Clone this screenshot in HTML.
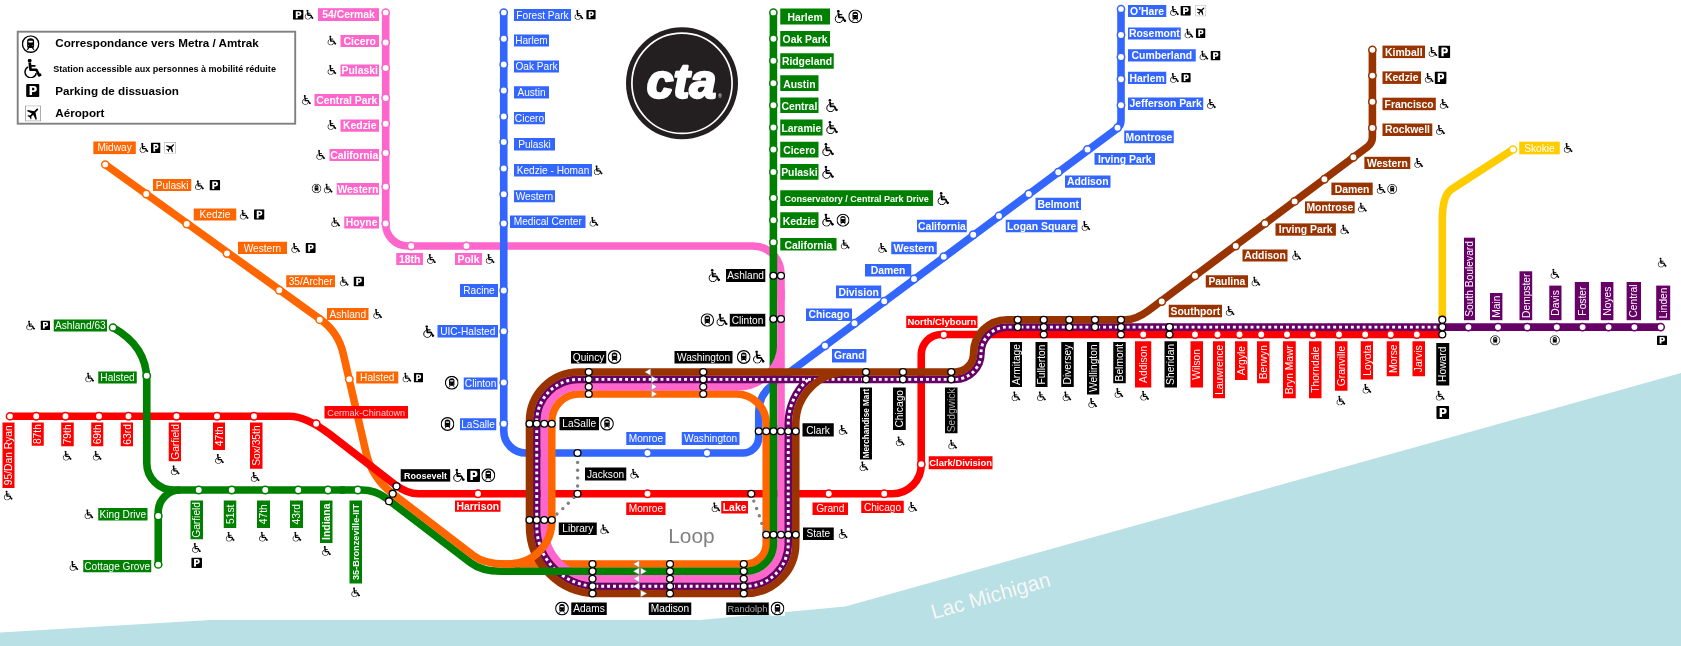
<!DOCTYPE html>
<html><head><meta charset="utf-8"><title>CTA</title>
<style>
html,body{margin:0;padding:0;background:#fff;}
body{width:1681px;height:646px;overflow:hidden;}
svg{display:block;will-change:transform;font-family:"Liberation Sans",sans-serif;}
</style></head><body>
<svg width="1681" height="646" viewBox="0 0 1681 646">
<defs>
<symbol id="wc" viewBox="0 0 12 13">
<circle cx="3.9" cy="1.3" r="1.3" fill="#000"/>
<path d="M3.9,2.6 L4.5,7.4 H8.4 L10.3,11.2 L11.7,10.5" fill="none" stroke="#000" stroke-width="1.8" stroke-linejoin="round"/>
<path d="M4.2,4.8 H7.8" fill="none" stroke="#000" stroke-width="1.2"/>
<path d="M3.0,5.5 A3.8,3.8 0 1 0 8.3,9.6" fill="none" stroke="#000" stroke-width="1.0"/>
</symbol>
<symbol id="pk" viewBox="0 0 10 10" preserveAspectRatio="none">
<rect x="0" y="0" width="10" height="10" rx="0.9" fill="#000"/>
<path d="M2.6,1.5 H5.7 Q8,1.5 8,3.85 Q8,6.2 5.7,6.2 H4.45 V8.5 H2.6 Z M4.45,2.95 V4.75 H5.4 Q6.2,4.75 6.2,3.85 Q6.2,2.95 5.4,2.95 Z" fill="#fff" fill-rule="evenodd"/>
</symbol>
<symbol id="metra" viewBox="0 0 20 20">
<circle cx="10" cy="10" r="9.2" fill="#fff" stroke="#000" stroke-width="1.6"/>
<path d="M6.1,6.3 Q6.1,3.3 10,3.3 Q13.9,3.3 13.9,6.3 V13 Q13.9,14.3 12.6,14.3 H7.4 Q6.1,14.3 6.1,13 Z" fill="#000"/>
<rect x="7.5" y="6.3" width="5" height="1.8" rx="0.5" fill="#fff"/>
<circle cx="7.8" cy="11.7" r="0.55" fill="#ccc"/><circle cx="12.2" cy="11.7" r="0.55" fill="#ccc"/>
<path d="M7.9,14.2 L6.1,16.5 M12.1,14.2 L13.9,16.5" stroke="#000" stroke-width="1.2" fill="none"/>
</symbol>
<symbol id="air" viewBox="0 0 16 16">
<rect x="0.4" y="0.4" width="15.2" height="15.2" fill="#fff" stroke="#999" stroke-width="0.8"/>
<g transform="translate(8.6,7.8) rotate(45) scale(0.7)">
<path d="M0,-9 C1,-9 1.3,-7.5 1.3,-6 V-2.5 L9,2.5 V4.5 L1.3,2 V6 L3.5,7.8 V9 L0,8 L-3.5,9 V7.8 L-1.3,6 V2 L-9,4.5 V2.5 L-1.3,-2.5 V-6 C-1.3,-7.5 -1,-9 0,-9 Z" fill="#000"/>
</g>
</symbol>
</defs>
<rect width="1681" height="646" fill="#fff"/>
<path d="M0,632.5 L210,620 L700,620 L845.2,606.6 L1681,373 V646 H0 Z" fill="#b9e0e4"/>
<text transform="translate(992.6,602.5) rotate(-15.8)" font-size="20.9" fill="#f8f6f6" text-anchor="middle">Lac Michigan</text>
<path d="M385.7,12.5 V224 A22,22 0 0 0 407.7,246 H753 A28,28 0 0 1 781,274 V300" stroke="#ff66cc" stroke-width="7.6" fill="none" />
<path d="M503.75,12.5 V431 A22,22 0 0 0 525.75,453 H742.75 A16,16 0 0 0 758.75,437  L758.75,412.1 Q758.75,395.1 772.39,384.95 L1116.99,128.58 Q1121,125.6 1121,120.6 L1121,9" stroke="#3366ff" stroke-width="7.6" fill="none" />
<path d="M520,571.25 L500.85,571.25 Q481.7,571.25 470.58,562.74 L386.62,498.51 Q375.5,490 361.5,490 L340,490" stroke="#008000" stroke-width="7.6" fill="none" />
<path d="M105.25,164.5 L320.44,319.35 Q338.3,332.2 343.23,353.64 L365.97,452.46 Q371.8,477.8 392.45,493.6 L473.38,555.49 Q484.5,564 504.5,564 L565,564" stroke="#ff6600" stroke-width="7.6" fill="none" />
<path d="M10,416.25 L289.4,416.25 Q306.4,416.25 330.15,434.58 L394.13,483.97 Q406.8,493.75 418.8,493.75 L892.25,493.75 A29,29 0 0 0 921.25,464.75 V354.5 A20,20 0 0 1 941.25,334.5 H1442.3" stroke="#ff0000" stroke-width="7.6" fill="none" />
<path d="M560,564 H745.75 A20.5,20.5 0 0 0 766.25,543.5 V424 A30,30 0 0 0 736.25,394 H579 A27.25,27.25 0 0 0 551.75,421.25 V523" stroke="#ff6600" stroke-width="7.6" fill="none" />
<path d="M773.4,12.5 V430" stroke="#008000" stroke-width="7.6" fill="none" />
<path d="M781,290 V543.5 A35.25,35.25 0 0 1 745.75,578.75 H596.75 A52.5,52.5 0 0 1 544.25,526.25 V421.25 A34.5,34.5 0 0 1 578.75,386.75 H738 A43,43 0 0 0 781,343.75" stroke="#ff66cc" stroke-width="7.6" fill="none" />
<path d="M1660.7,327.1 H1442.3" stroke="#660066" stroke-width="7.6" fill="none" />
<path d="M1442.3,327.1 H1007 A26,26 0 0 0 981,353.1 V353.35 A26,26 0 0 1 955,379.35 H578.75 A42,42 0 0 0 536.75,421.35 V526.25 A60,60 0 0 0 596.75,586.25 H745.75 A42.5,42.5 0 0 0 788.25,543.5 V424 A59.5,59.5 0 0 1 808.4,379.35" stroke="#660066" stroke-width="7.6" fill="none" />
<path d="M1442.3,327.1 H1007 A26,26 0 0 0 981,353.1 V353.35 A26,26 0 0 1 955,379.35 H578.75 A42,42 0 0 0 536.75,421.35 V526.25 A60,60 0 0 0 596.75,586.25 H745.75 A42.5,42.5 0 0 0 788.25,543.5 V424 A59.5,59.5 0 0 1 808.4,379.35" stroke="#fff" stroke-width="2.9" fill="none" stroke-dasharray="2.9 3"/>
<path d="M1372.4,49.8 L1372.4,137.1 Q1372.4,143.1 1367.6,146.69 L1148.21,310.77 Q1136.2,319.75 1125.2,319.75 L1007,319.75 A33.4,33.4 0 0 0 973.6,353.15 V353.4 A18.6,18.6 0 0 1 955,372 H578.75 A49.25,49.25 0 0 0 529.5,421.25 V526.25 A67.25,67.25 0 0 0 596.75,593.5 H745.75 A50,50 0 0 0 795.75,543.5 V424 A52,52 0 0 1 847.75,372" stroke="#993300" stroke-width="7.6" fill="none" />
<path d="M551.75,515 V521.3 A42.7,42.7 0 0 1 509.05,564 H500" stroke="#ff6600" stroke-width="7.6" fill="none" />
<path d="M773.5,425 V543.5 A27.75,27.75 0 0 1 745.75,571.25 H515" stroke="#008000" stroke-width="7.6" fill="none" />
<path d="M345,490 H173.75 A27,27 0 0 1 146.75,463 V380 C146.75,352 130,337 113,327.5" stroke="#008000" stroke-width="7.6" fill="none" />
<path d="M158.25,564.5 V512 A22,22 0 0 1 180.25,490" stroke="#008000" stroke-width="7.6" fill="none" />
<path d="M1513,149.5 L1451.54,189.23 Q1442.3,195.2 1442.3,220.2 L1442.3,319.7" stroke="#ffcc00" stroke-width="7.6" fill="none" />
<circle cx="577.6" cy="462.4" r="1.7" fill="#808080"/>
<circle cx="577.6" cy="470.2" r="1.7" fill="#808080"/>
<circle cx="577.6" cy="477.9" r="1.7" fill="#808080"/>
<circle cx="577.6" cy="486" r="1.7" fill="#808080"/>
<circle cx="574" cy="497.6" r="1.7" fill="#808080"/>
<circle cx="568.3" cy="503.2" r="1.7" fill="#808080"/>
<circle cx="562.8" cy="508.6" r="1.7" fill="#808080"/>
<circle cx="557" cy="514" r="1.7" fill="#808080"/>
<circle cx="753.8" cy="501.1" r="1.7" fill="#808080"/>
<circle cx="756.6" cy="508.5" r="1.7" fill="#808080"/>
<circle cx="759.3" cy="515.8" r="1.7" fill="#808080"/>
<circle cx="761.8" cy="523.4" r="1.7" fill="#808080"/>
<circle cx="764.5" cy="530.1" r="1.7" fill="#808080"/>
<circle cx="385.7" cy="12.5" r="3.6" fill="#fff" stroke="#ff66cc" stroke-width="1.5"/>
<circle cx="385.7" cy="42.5" r="3.7" fill="#fff" stroke="#ff66cc" stroke-width="1.5"/>
<circle cx="385.7" cy="68" r="3.7" fill="#fff" stroke="#ff66cc" stroke-width="1.5"/>
<circle cx="385.7" cy="98" r="3.7" fill="#fff" stroke="#ff66cc" stroke-width="1.5"/>
<circle cx="385.7" cy="123.75" r="3.7" fill="#fff" stroke="#ff66cc" stroke-width="1.5"/>
<circle cx="385.7" cy="153" r="3.7" fill="#fff" stroke="#ff66cc" stroke-width="1.5"/>
<circle cx="385.7" cy="186.75" r="3.7" fill="#fff" stroke="#ff66cc" stroke-width="1.5"/>
<circle cx="385.7" cy="223.5" r="3.7" fill="#fff" stroke="#ff66cc" stroke-width="1.5"/>
<circle cx="411.25" cy="246" r="3.7" fill="#fff" stroke="#ff66cc" stroke-width="1.5"/>
<circle cx="466.5" cy="246" r="3.7" fill="#fff" stroke="#ff66cc" stroke-width="1.5"/>
<circle cx="105.25" cy="164.5" r="3.6" fill="#fff" stroke="#ff6600" stroke-width="1.5"/>
<circle cx="146.25" cy="194" r="3.7" fill="#fff" stroke="#ff6600" stroke-width="1.5"/>
<circle cx="186.75" cy="224" r="3.7" fill="#fff" stroke="#ff6600" stroke-width="1.5"/>
<circle cx="227" cy="253.5" r="3.7" fill="#fff" stroke="#ff6600" stroke-width="1.5"/>
<circle cx="279.25" cy="290.25" r="3.7" fill="#fff" stroke="#ff6600" stroke-width="1.5"/>
<circle cx="319.7" cy="319.7" r="3.7" fill="#fff" stroke="#ff6600" stroke-width="1.5"/>
<circle cx="349.3" cy="379.2" r="3.7" fill="#fff" stroke="#ff6600" stroke-width="1.5"/>
<circle cx="503.75" cy="12.5" r="3.6" fill="#fff" stroke="#3366ff" stroke-width="1.5"/>
<circle cx="503.75" cy="38.75" r="3.7" fill="#fff" stroke="#3366ff" stroke-width="1.5"/>
<circle cx="503.75" cy="64.5" r="3.7" fill="#fff" stroke="#3366ff" stroke-width="1.5"/>
<circle cx="503.75" cy="90.5" r="3.7" fill="#fff" stroke="#3366ff" stroke-width="1.5"/>
<circle cx="503.75" cy="116.5" r="3.7" fill="#fff" stroke="#3366ff" stroke-width="1.5"/>
<circle cx="503.75" cy="142" r="3.7" fill="#fff" stroke="#3366ff" stroke-width="1.5"/>
<circle cx="503.75" cy="168.5" r="3.7" fill="#fff" stroke="#3366ff" stroke-width="1.5"/>
<circle cx="503.75" cy="194.25" r="3.7" fill="#fff" stroke="#3366ff" stroke-width="1.5"/>
<circle cx="503.75" cy="223.5" r="3.7" fill="#fff" stroke="#3366ff" stroke-width="1.5"/>
<circle cx="503.75" cy="290.5" r="3.7" fill="#fff" stroke="#3366ff" stroke-width="1.5"/>
<circle cx="503.75" cy="331.25" r="3.7" fill="#fff" stroke="#3366ff" stroke-width="1.5"/>
<circle cx="503.75" cy="382.5" r="3.7" fill="#fff" stroke="#3366ff" stroke-width="1.5"/>
<circle cx="503.75" cy="423.75" r="3.7" fill="#fff" stroke="#3366ff" stroke-width="1.5"/>
<circle cx="647.5" cy="453" r="3.7" fill="#fff" stroke="#3366ff" stroke-width="1.5"/>
<circle cx="707" cy="453" r="3.7" fill="#fff" stroke="#3366ff" stroke-width="1.5"/>
<circle cx="1121" cy="9" r="3.6" fill="#fff" stroke="#3366ff" stroke-width="1.5"/>
<circle cx="1121" cy="35" r="3.7" fill="#fff" stroke="#3366ff" stroke-width="1.5"/>
<circle cx="1121" cy="57" r="3.7" fill="#fff" stroke="#3366ff" stroke-width="1.5"/>
<circle cx="1121" cy="79.25" r="3.7" fill="#fff" stroke="#3366ff" stroke-width="1.5"/>
<circle cx="1121" cy="105.25" r="3.7" fill="#fff" stroke="#3366ff" stroke-width="1.5"/>
<circle cx="1117.5" cy="127.75" r="3.7" fill="#fff" stroke="#3366ff" stroke-width="1.5"/>
<circle cx="1087.5" cy="149.5" r="3.7" fill="#fff" stroke="#3366ff" stroke-width="1.5"/>
<circle cx="1058.25" cy="172.25" r="3.7" fill="#fff" stroke="#3366ff" stroke-width="1.5"/>
<circle cx="1028.75" cy="194" r="3.7" fill="#fff" stroke="#3366ff" stroke-width="1.5"/>
<circle cx="999" cy="216" r="3.7" fill="#fff" stroke="#3366ff" stroke-width="1.5"/>
<circle cx="973.25" cy="234.75" r="3.7" fill="#fff" stroke="#3366ff" stroke-width="1.5"/>
<circle cx="943.75" cy="256.75" r="3.7" fill="#fff" stroke="#3366ff" stroke-width="1.5"/>
<circle cx="914" cy="279" r="3.7" fill="#fff" stroke="#3366ff" stroke-width="1.5"/>
<circle cx="884.25" cy="301.25" r="3.7" fill="#fff" stroke="#3366ff" stroke-width="1.5"/>
<circle cx="854.5" cy="323.3" r="3.7" fill="#fff" stroke="#3366ff" stroke-width="1.5"/>
<circle cx="825" cy="345.8" r="3.7" fill="#fff" stroke="#3366ff" stroke-width="1.5"/>
<circle cx="773.4" cy="12.5" r="3.6" fill="#fff" stroke="#008000" stroke-width="1.5"/>
<circle cx="773.4" cy="38.75" r="3.7" fill="#fff" stroke="#008000" stroke-width="1.5"/>
<circle cx="773.4" cy="60.75" r="3.7" fill="#fff" stroke="#008000" stroke-width="1.5"/>
<circle cx="773.4" cy="83.25" r="3.7" fill="#fff" stroke="#008000" stroke-width="1.5"/>
<circle cx="773.4" cy="105.25" r="3.7" fill="#fff" stroke="#008000" stroke-width="1.5"/>
<circle cx="773.4" cy="127.5" r="3.7" fill="#fff" stroke="#008000" stroke-width="1.5"/>
<circle cx="773.4" cy="149.5" r="3.7" fill="#fff" stroke="#008000" stroke-width="1.5"/>
<circle cx="773.4" cy="172" r="3.7" fill="#fff" stroke="#008000" stroke-width="1.5"/>
<circle cx="773.4" cy="198" r="3.7" fill="#fff" stroke="#008000" stroke-width="1.5"/>
<circle cx="773.4" cy="220.25" r="3.7" fill="#fff" stroke="#008000" stroke-width="1.5"/>
<circle cx="773.4" cy="242.25" r="3.7" fill="#fff" stroke="#008000" stroke-width="1.5"/>
<circle cx="113" cy="327.5" r="3.6" fill="#fff" stroke="#008000" stroke-width="1.5"/>
<circle cx="146.75" cy="375.75" r="3.7" fill="#fff" stroke="#008000" stroke-width="1.5"/>
<circle cx="198.75" cy="490" r="3.7" fill="#fff" stroke="#008000" stroke-width="1.5"/>
<circle cx="231.75" cy="490" r="3.7" fill="#fff" stroke="#008000" stroke-width="1.5"/>
<circle cx="265.25" cy="490" r="3.7" fill="#fff" stroke="#008000" stroke-width="1.5"/>
<circle cx="298.25" cy="490" r="3.7" fill="#fff" stroke="#008000" stroke-width="1.5"/>
<circle cx="328" cy="490" r="3.7" fill="#fff" stroke="#008000" stroke-width="1.5"/>
<circle cx="357.75" cy="490" r="3.7" fill="#fff" stroke="#008000" stroke-width="1.5"/>
<circle cx="158.25" cy="516" r="3.7" fill="#fff" stroke="#008000" stroke-width="1.5"/>
<circle cx="158.25" cy="564.5" r="3.6" fill="#fff" stroke="#008000" stroke-width="1.5"/>
<circle cx="10" cy="416.25" r="3.6" fill="#fff" stroke="#ff0000" stroke-width="1.5"/>
<circle cx="36.25" cy="416.25" r="3.7" fill="#fff" stroke="#ff0000" stroke-width="1.5"/>
<circle cx="65.5" cy="416.25" r="3.7" fill="#fff" stroke="#ff0000" stroke-width="1.5"/>
<circle cx="99" cy="416.25" r="3.7" fill="#fff" stroke="#ff0000" stroke-width="1.5"/>
<circle cx="128.5" cy="416.25" r="3.7" fill="#fff" stroke="#ff0000" stroke-width="1.5"/>
<circle cx="176.5" cy="416.25" r="3.7" fill="#fff" stroke="#ff0000" stroke-width="1.5"/>
<circle cx="217" cy="416.25" r="3.7" fill="#fff" stroke="#ff0000" stroke-width="1.5"/>
<circle cx="254" cy="416.25" r="3.7" fill="#fff" stroke="#ff0000" stroke-width="1.5"/>
<circle cx="316.2" cy="423.7" r="3.7" fill="#fff" stroke="#ff0000" stroke-width="1.5"/>
<circle cx="478" cy="493.75" r="3.7" fill="#fff" stroke="#ff0000" stroke-width="1.5"/>
<circle cx="647.5" cy="493.75" r="3.7" fill="#fff" stroke="#ff0000" stroke-width="1.5"/>
<circle cx="828.75" cy="493.75" r="3.7" fill="#fff" stroke="#ff0000" stroke-width="1.5"/>
<circle cx="884.25" cy="493.75" r="3.7" fill="#fff" stroke="#ff0000" stroke-width="1.5"/>
<circle cx="921.25" cy="464.25" r="3.7" fill="#fff" stroke="#ff0000" stroke-width="1.5"/>
<circle cx="943.75" cy="334.7" r="3.7" fill="#fff" stroke="#ff0000" stroke-width="1.5"/>
<circle cx="1143.25" cy="334.5" r="3.7" fill="#fff" stroke="#ff0000" stroke-width="1.5"/>
<circle cx="1195" cy="334.5" r="3.7" fill="#fff" stroke="#ff0000" stroke-width="1.5"/>
<circle cx="1217.5" cy="334.5" r="3.7" fill="#fff" stroke="#ff0000" stroke-width="1.5"/>
<circle cx="1239.5" cy="334.5" r="3.7" fill="#fff" stroke="#ff0000" stroke-width="1.5"/>
<circle cx="1261.25" cy="334.5" r="3.7" fill="#fff" stroke="#ff0000" stroke-width="1.5"/>
<circle cx="1287" cy="334.5" r="3.7" fill="#fff" stroke="#ff0000" stroke-width="1.5"/>
<circle cx="1313" cy="334.5" r="3.7" fill="#fff" stroke="#ff0000" stroke-width="1.5"/>
<circle cx="1339" cy="334.5" r="3.7" fill="#fff" stroke="#ff0000" stroke-width="1.5"/>
<circle cx="1365.2" cy="334.5" r="3.7" fill="#fff" stroke="#ff0000" stroke-width="1.5"/>
<circle cx="1390.7" cy="334.5" r="3.7" fill="#fff" stroke="#ff0000" stroke-width="1.5"/>
<circle cx="1416.8" cy="334.5" r="3.7" fill="#fff" stroke="#ff0000" stroke-width="1.5"/>
<circle cx="1372.4" cy="49.8" r="3.6" fill="#fff" stroke="#993300" stroke-width="1.5"/>
<circle cx="1372.4" cy="75.6" r="3.7" fill="#fff" stroke="#993300" stroke-width="1.5"/>
<circle cx="1372.4" cy="101.7" r="3.7" fill="#fff" stroke="#993300" stroke-width="1.5"/>
<circle cx="1372.4" cy="128" r="3.7" fill="#fff" stroke="#993300" stroke-width="1.5"/>
<circle cx="1353.4" cy="157.3" r="3.7" fill="#fff" stroke="#993300" stroke-width="1.5"/>
<circle cx="1324.4" cy="179.3" r="3.7" fill="#fff" stroke="#993300" stroke-width="1.5"/>
<circle cx="1294.6" cy="201.4" r="3.7" fill="#fff" stroke="#993300" stroke-width="1.5"/>
<circle cx="1265" cy="223.4" r="3.7" fill="#fff" stroke="#993300" stroke-width="1.5"/>
<circle cx="1235.75" cy="246" r="3.7" fill="#fff" stroke="#993300" stroke-width="1.5"/>
<circle cx="1195" cy="275.75" r="3.7" fill="#fff" stroke="#993300" stroke-width="1.5"/>
<circle cx="1161.75" cy="301.5" r="3.7" fill="#fff" stroke="#993300" stroke-width="1.5"/>
<circle cx="1513" cy="149.5" r="3.6" fill="#fff" stroke="#ffcc00" stroke-width="1.5"/>
<circle cx="1468.4" cy="327.1" r="3.7" fill="#fff" stroke="#660066" stroke-width="1.5"/>
<circle cx="1498" cy="327.1" r="3.7" fill="#fff" stroke="#660066" stroke-width="1.5"/>
<circle cx="1527.2" cy="327.1" r="3.7" fill="#fff" stroke="#660066" stroke-width="1.5"/>
<circle cx="1556.8" cy="327.1" r="3.7" fill="#fff" stroke="#660066" stroke-width="1.5"/>
<circle cx="1582.6" cy="327.1" r="3.7" fill="#fff" stroke="#660066" stroke-width="1.5"/>
<circle cx="1608.6" cy="327.1" r="3.7" fill="#fff" stroke="#660066" stroke-width="1.5"/>
<circle cx="1634.4" cy="327.1" r="3.7" fill="#fff" stroke="#660066" stroke-width="1.5"/>
<circle cx="1660.7" cy="327.1" r="3.6" fill="#fff" stroke="#660066" stroke-width="1.5"/>
<circle cx="588.75" cy="372" r="3.45" fill="#fff" stroke="#000" stroke-width="1.3"/>
<circle cx="588.75" cy="379.35" r="3.45" fill="#fff" stroke="#000" stroke-width="1.3"/>
<circle cx="588.75" cy="386.75" r="3.45" fill="#fff" stroke="#000" stroke-width="1.3"/>
<circle cx="588.75" cy="394" r="3.45" fill="#fff" stroke="#000" stroke-width="1.3"/>
<circle cx="703.25" cy="372" r="3.45" fill="#fff" stroke="#000" stroke-width="1.3"/>
<circle cx="703.25" cy="379.35" r="3.45" fill="#fff" stroke="#000" stroke-width="1.3"/>
<circle cx="703.25" cy="386.75" r="3.45" fill="#fff" stroke="#000" stroke-width="1.3"/>
<circle cx="703.25" cy="394" r="3.45" fill="#fff" stroke="#000" stroke-width="1.3"/>
<circle cx="529.5" cy="423.75" r="3.45" fill="#fff" stroke="#000" stroke-width="1.3"/>
<circle cx="536.75" cy="423.75" r="3.45" fill="#fff" stroke="#000" stroke-width="1.3"/>
<circle cx="544.25" cy="423.75" r="3.45" fill="#fff" stroke="#000" stroke-width="1.3"/>
<circle cx="551.75" cy="423.75" r="3.45" fill="#fff" stroke="#000" stroke-width="1.3"/>
<circle cx="529.5" cy="520" r="3.45" fill="#fff" stroke="#000" stroke-width="1.3"/>
<circle cx="536.75" cy="520" r="3.45" fill="#fff" stroke="#000" stroke-width="1.3"/>
<circle cx="544.25" cy="520" r="3.45" fill="#fff" stroke="#000" stroke-width="1.3"/>
<circle cx="551.75" cy="520" r="3.45" fill="#fff" stroke="#000" stroke-width="1.3"/>
<circle cx="758.75" cy="431.25" r="3.45" fill="#fff" stroke="#000" stroke-width="1.3"/>
<circle cx="766.25" cy="431.25" r="3.45" fill="#fff" stroke="#000" stroke-width="1.3"/>
<circle cx="773.5" cy="431.25" r="3.45" fill="#fff" stroke="#000" stroke-width="1.3"/>
<circle cx="781" cy="431.25" r="3.45" fill="#fff" stroke="#000" stroke-width="1.3"/>
<circle cx="788.25" cy="431.25" r="3.45" fill="#fff" stroke="#000" stroke-width="1.3"/>
<circle cx="795.75" cy="431.25" r="3.45" fill="#fff" stroke="#000" stroke-width="1.3"/>
<circle cx="766.25" cy="534.75" r="3.45" fill="#fff" stroke="#000" stroke-width="1.3"/>
<circle cx="773.5" cy="534.75" r="3.45" fill="#fff" stroke="#000" stroke-width="1.3"/>
<circle cx="781" cy="534.75" r="3.45" fill="#fff" stroke="#000" stroke-width="1.3"/>
<circle cx="788.25" cy="534.75" r="3.45" fill="#fff" stroke="#000" stroke-width="1.3"/>
<circle cx="795.75" cy="534.75" r="3.45" fill="#fff" stroke="#000" stroke-width="1.3"/>
<circle cx="592.5" cy="564" r="3.45" fill="#fff" stroke="#000" stroke-width="1.3"/>
<circle cx="592.5" cy="571.25" r="3.45" fill="#fff" stroke="#000" stroke-width="1.3"/>
<circle cx="592.5" cy="578.75" r="3.45" fill="#fff" stroke="#000" stroke-width="1.3"/>
<circle cx="592.5" cy="586.25" r="3.45" fill="#fff" stroke="#000" stroke-width="1.3"/>
<circle cx="592.5" cy="593.5" r="3.45" fill="#fff" stroke="#000" stroke-width="1.3"/>
<circle cx="670" cy="564" r="3.45" fill="#fff" stroke="#000" stroke-width="1.3"/>
<circle cx="670" cy="571.25" r="3.45" fill="#fff" stroke="#000" stroke-width="1.3"/>
<circle cx="670" cy="578.75" r="3.45" fill="#fff" stroke="#000" stroke-width="1.3"/>
<circle cx="670" cy="586.25" r="3.45" fill="#fff" stroke="#000" stroke-width="1.3"/>
<circle cx="670" cy="593.5" r="3.45" fill="#fff" stroke="#000" stroke-width="1.3"/>
<circle cx="743.75" cy="564" r="3.45" fill="#fff" stroke="#000" stroke-width="1.3"/>
<circle cx="743.75" cy="571.25" r="3.45" fill="#fff" stroke="#000" stroke-width="1.3"/>
<circle cx="743.75" cy="578.75" r="3.45" fill="#fff" stroke="#000" stroke-width="1.3"/>
<circle cx="743.75" cy="586.25" r="3.45" fill="#fff" stroke="#000" stroke-width="1.3"/>
<circle cx="743.75" cy="593.5" r="3.45" fill="#fff" stroke="#000" stroke-width="1.3"/>
<circle cx="577.5" cy="453" r="3.45" fill="#fff" stroke="#000" stroke-width="1.3"/>
<circle cx="577.5" cy="493.75" r="3.45" fill="#fff" stroke="#000" stroke-width="1.3"/>
<circle cx="751.25" cy="493.75" r="3.45" fill="#fff" stroke="#000" stroke-width="1.3"/>
<circle cx="396.5" cy="486.3" r="3.45" fill="#fff" stroke="#000" stroke-width="1.3"/>
<circle cx="392.7" cy="493.7" r="3.45" fill="#fff" stroke="#000" stroke-width="1.3"/>
<circle cx="389" cy="501.2" r="3.45" fill="#fff" stroke="#000" stroke-width="1.3"/>
<circle cx="773.4" cy="275.75" r="3.45" fill="#fff" stroke="#000" stroke-width="1.3"/>
<circle cx="781" cy="275.75" r="3.45" fill="#fff" stroke="#000" stroke-width="1.3"/>
<circle cx="773.4" cy="319" r="3.45" fill="#fff" stroke="#000" stroke-width="1.3"/>
<circle cx="781" cy="319" r="3.45" fill="#fff" stroke="#000" stroke-width="1.3"/>
<circle cx="866" cy="372" r="3.45" fill="#fff" stroke="#000" stroke-width="1.3"/>
<circle cx="866" cy="379.35" r="3.45" fill="#fff" stroke="#000" stroke-width="1.3"/>
<circle cx="903" cy="372" r="3.45" fill="#fff" stroke="#000" stroke-width="1.3"/>
<circle cx="903" cy="379.35" r="3.45" fill="#fff" stroke="#000" stroke-width="1.3"/>
<circle cx="951.25" cy="372" r="3.45" fill="#fff" stroke="#000" stroke-width="1.3"/>
<circle cx="951.25" cy="379.35" r="3.45" fill="#fff" stroke="#000" stroke-width="1.3"/>
<circle cx="1017.75" cy="319.75" r="3.45" fill="#fff" stroke="#000" stroke-width="1.3"/>
<circle cx="1017.75" cy="327.1" r="3.45" fill="#fff" stroke="#000" stroke-width="1.3"/>
<circle cx="1069.25" cy="319.75" r="3.45" fill="#fff" stroke="#000" stroke-width="1.3"/>
<circle cx="1069.25" cy="327.1" r="3.45" fill="#fff" stroke="#000" stroke-width="1.3"/>
<circle cx="1095" cy="319.75" r="3.45" fill="#fff" stroke="#000" stroke-width="1.3"/>
<circle cx="1095" cy="327.1" r="3.45" fill="#fff" stroke="#000" stroke-width="1.3"/>
<circle cx="1043.75" cy="319.75" r="3.45" fill="#fff" stroke="#000" stroke-width="1.3"/>
<circle cx="1043.75" cy="327.1" r="3.45" fill="#fff" stroke="#000" stroke-width="1.3"/>
<circle cx="1043.75" cy="334.5" r="3.45" fill="#fff" stroke="#000" stroke-width="1.3"/>
<circle cx="1121" cy="319.75" r="3.45" fill="#fff" stroke="#000" stroke-width="1.3"/>
<circle cx="1121" cy="327.1" r="3.45" fill="#fff" stroke="#000" stroke-width="1.3"/>
<circle cx="1121" cy="334.5" r="3.45" fill="#fff" stroke="#000" stroke-width="1.3"/>
<circle cx="1169.5" cy="327.1" r="3.45" fill="#fff" stroke="#000" stroke-width="1.3"/>
<circle cx="1169.5" cy="334.5" r="3.45" fill="#fff" stroke="#000" stroke-width="1.3"/>
<circle cx="1442.3" cy="319.7" r="3.45" fill="#fff" stroke="#000" stroke-width="1.3"/>
<circle cx="1442.3" cy="327.1" r="3.45" fill="#fff" stroke="#000" stroke-width="1.3"/>
<circle cx="1442.3" cy="334.5" r="3.45" fill="#fff" stroke="#000" stroke-width="1.3"/>
<polygon points="650.7,368.5 644.7,372 650.7,375.5" fill="#fff" stroke="#777" stroke-width="0.5"/>
<polygon points="651.4,375.85 657.2,379.35 651.4,382.85" fill="#fff" stroke="#777" stroke-width="0.5"/>
<polygon points="651.4,383.25 657.2,386.75 651.4,390.25" fill="#fff" stroke="#777" stroke-width="0.5"/>
<polygon points="651.4,390.5 657.2,394 651.4,397.5" fill="#fff" stroke="#777" stroke-width="0.5"/>
<polygon points="639.3,560.5 633.2,564 639.3,567.5" fill="#fff" stroke="#777" stroke-width="0.5"/>
<polygon points="639.3,567.75 633.2,571.25 639.3,574.75" fill="#fff" stroke="#777" stroke-width="0.5"/>
<polygon points="640.6,567.75 646.6,571.25 640.6,574.75" fill="#fff" stroke="#777" stroke-width="0.5"/>
<polygon points="639.3,575.25 633.2,578.75 639.3,582.25" fill="#fff" stroke="#777" stroke-width="0.5"/>
<polygon points="639.3,582.75 633.2,586.25 639.3,589.75" fill="#fff" stroke="#777" stroke-width="0.5"/>
<polygon points="640.6,590 647,593.5 640.6,597" fill="#fff" stroke="#777" stroke-width="0.5"/>
<rect x="318" y="8.2" width="61" height="12.8" fill="#ff66cc"/>
<text x="348.5" y="18.34" font-size="10.4" fill="#fff" text-anchor="middle" font-weight="bold">54/Cermak</text>
<use href="#pk" x="293" y="9.8" width="10.6" height="10"/>
<use href="#wc" x="304.48" y="9.65" width="9.14" height="9.9"/>
<rect x="340.5" y="35" width="38.5" height="12" fill="#ff66cc"/>
<text x="359.75" y="44.74" font-size="10.4" fill="#fff" text-anchor="middle" font-weight="bold">Cicero</text>
<use href="#wc" x="327.33" y="35.45" width="9.14" height="9.9"/>
<rect x="340.5" y="64.5" width="38.5" height="12" fill="#ff66cc"/>
<text x="359.75" y="74.24" font-size="10.4" fill="#fff" text-anchor="middle" font-weight="bold">Pulaski</text>
<use href="#wc" x="327.33" y="64.95" width="9.14" height="9.9"/>
<rect x="314.5" y="94" width="64.5" height="12" fill="#ff66cc"/>
<text x="346.75" y="103.74" font-size="10.4" fill="#fff" text-anchor="middle" font-weight="bold">Central Park</text>
<use href="#wc" x="301.83" y="94.95" width="9.14" height="9.9"/>
<rect x="340.5" y="119.5" width="38.5" height="12.25" fill="#ff66cc"/>
<text x="359.75" y="129.37" font-size="10.4" fill="#fff" text-anchor="middle" font-weight="bold">Kedzie</text>
<use href="#wc" x="327.33" y="119.95" width="9.14" height="9.9"/>
<rect x="329.5" y="149" width="49.5" height="12" fill="#ff66cc"/>
<text x="354.25" y="158.74" font-size="10.4" fill="#fff" text-anchor="middle" font-weight="bold">California</text>
<use href="#wc" x="316.08" y="149.95" width="9.14" height="9.9"/>
<rect x="336.75" y="183" width="42.25" height="11.75" fill="#ff66cc"/>
<text x="357.88" y="192.62" font-size="10.4" fill="#fff" text-anchor="middle" font-weight="bold">Western</text>
<use href="#metra" x="311.7" y="183.7" width="9.6" height="9.6"/>
<use href="#wc" x="323.58" y="183.45" width="9.14" height="9.9"/>
<rect x="344.25" y="216.5" width="34.75" height="12" fill="#ff66cc"/>
<text x="361.62" y="226.24" font-size="10.4" fill="#fff" text-anchor="middle" font-weight="bold">Hoyne</text>
<use href="#wc" x="331.08" y="217.2" width="9.14" height="9.9"/>
<rect x="396.25" y="253" width="26.75" height="12" fill="#ff66cc"/>
<text x="409.62" y="262.74" font-size="10.4" fill="#fff" text-anchor="middle" font-weight="bold">18th</text>
<use href="#wc" x="426.83" y="253.95" width="9.14" height="9.9"/>
<rect x="455" y="253" width="27" height="12" fill="#ff66cc"/>
<text x="468.5" y="262.74" font-size="10.4" fill="#fff" text-anchor="middle" font-weight="bold">Polk</text>
<use href="#wc" x="485.58" y="253.95" width="9.14" height="9.9"/>
<rect x="93.35" y="141.5" width="42.45" height="12.6" fill="#ff6600"/>
<text x="114.58" y="151.45" font-size="10.15" fill="#fff" text-anchor="middle">Midway</text>
<use href="#wc" x="139.33" y="142.95" width="9.14" height="9.9"/>
<use href="#pk" x="150.9" y="142.5" width="9.6" height="10.6"/>
<use href="#air" x="164.3" y="142" width="11.8" height="11.6"/>
<rect x="153" y="179" width="38.25" height="12" fill="#ff6600"/>
<text x="172.12" y="188.65" font-size="10.15" fill="#fff" text-anchor="middle">Pulaski</text>
<use href="#wc" x="194.83" y="180.2" width="9.14" height="9.9"/>
<use href="#pk" x="209.5" y="180" width="10.75" height="10.5"/>
<rect x="193.75" y="208.5" width="42.5" height="12" fill="#ff6600"/>
<text x="215" y="218.15" font-size="10.15" fill="#fff" text-anchor="middle">Kedzie</text>
<use href="#wc" x="239.58" y="209.7" width="9.14" height="9.9"/>
<use href="#pk" x="254" y="209.25" width="10.5" height="10.5"/>
<rect x="238" y="241.75" width="49" height="12.25" fill="#ff6600"/>
<text x="262.5" y="251.53" font-size="10.15" fill="#fff" text-anchor="middle">Western</text>
<use href="#wc" x="291.08" y="242.95" width="9.14" height="9.9"/>
<use href="#pk" x="305.5" y="243" width="10.25" height="10"/>
<rect x="286.25" y="275.25" width="48.75" height="12" fill="#ff6600"/>
<text x="310.62" y="284.9" font-size="10.15" fill="#fff" text-anchor="middle">35/Archer</text>
<use href="#wc" x="339.58" y="276.45" width="9.14" height="9.9"/>
<use href="#pk" x="353.5" y="276.5" width="10.5" height="10"/>
<rect x="327" y="308" width="41.5" height="12" fill="#ff6600"/>
<text x="347.75" y="317.65" font-size="10.15" fill="#fff" text-anchor="middle">Ashland</text>
<use href="#wc" x="373.08" y="308.95" width="9.14" height="9.9"/>
<rect x="356.25" y="371.5" width="42" height="12" fill="#ff6600"/>
<text x="377.25" y="381.15" font-size="10.15" fill="#fff" text-anchor="middle">Halsted</text>
<use href="#wc" x="402.33" y="372.45" width="9.14" height="9.9"/>
<use href="#pk" x="413.75" y="373" width="9.25" height="9.5"/>
<rect x="53.75" y="319.5" width="53.25" height="12" fill="#008000"/>
<text x="80.38" y="329.15" font-size="10.15" fill="#fff" text-anchor="middle">Ashland/63</text>
<use href="#pk" x="40.5" y="320.5" width="9.5" height="9.5"/>
<use href="#wc" x="26.08" y="320.45" width="9.14" height="9.9"/>
<rect x="98.25" y="371.5" width="38.5" height="12" fill="#008000"/>
<text x="117.5" y="381.15" font-size="10.15" fill="#fff" text-anchor="middle">Halsted</text>
<use href="#wc" x="85.08" y="372.45" width="9.14" height="9.9"/>
<rect x="98.25" y="508" width="49.25" height="12.5" fill="#008000"/>
<text x="122.88" y="517.9" font-size="10.15" fill="#fff" text-anchor="middle">King Drive</text>
<use href="#wc" x="84.33" y="509.2" width="9.14" height="9.9"/>
<rect x="83.25" y="560" width="68" height="12.25" fill="#008000"/>
<text x="117.25" y="569.78" font-size="10.15" fill="#fff" text-anchor="middle">Cottage Grove</text>
<use href="#wc" x="69.33" y="560.95" width="9.14" height="9.9"/>
<rect x="190.5" y="500.5" width="12.5" height="38.75" fill="#008000"/>
<text transform="translate(200.44,519.88) rotate(-90)" font-size="10.25" fill="#fff" text-anchor="middle">Garfield</text>
<use href="#wc" x="191.83" y="542.95" width="9.14" height="9.9"/>
<use href="#pk" x="191.25" y="557.5" width="10.75" height="10.5"/>
<rect x="223.75" y="500.5" width="12.5" height="27.5" fill="#008000"/>
<text transform="translate(233.69,514.25) rotate(-90)" font-size="10.25" fill="#fff" text-anchor="middle">51st</text>
<use href="#wc" x="225.58" y="531.7" width="9.14" height="9.9"/>
<rect x="257" y="500.5" width="13" height="27.5" fill="#008000"/>
<text transform="translate(267.19,514.25) rotate(-90)" font-size="10.25" fill="#fff" text-anchor="middle">47th</text>
<use href="#wc" x="258.83" y="531.7" width="9.14" height="9.9"/>
<rect x="290" y="500.5" width="13" height="27.5" fill="#008000"/>
<text transform="translate(300.19,514.25) rotate(-90)" font-size="10.25" fill="#fff" text-anchor="middle">43rd</text>
<use href="#wc" x="292.33" y="531.7" width="9.14" height="9.9"/>
<rect x="320" y="500.5" width="12.5" height="42.5" fill="#008000"/>
<text transform="translate(329.99,521.75) rotate(-90)" font-size="10.4" fill="#fff" text-anchor="middle" font-weight="bold">Indiana</text>
<use href="#wc" x="321.83" y="545.95" width="9.14" height="9.9"/>
<rect x="349.5" y="500.5" width="12.5" height="83" fill="#008000"/>
<text transform="translate(359.06,542) rotate(-90)" font-size="9.2" fill="#fff" text-anchor="middle" font-weight="bold">35-Bronzeville-IIT</text>
<use href="#wc" x="351.08" y="587.2" width="9.14" height="9.9"/>
<rect x="324.5" y="406" width="83.5" height="12.5" fill="#ff0000"/>
<text x="366.25" y="415.53" font-size="9.1" fill="#ffc8c8" text-anchor="middle">Cermak-Chinatown</text>
<rect x="2.5" y="422.5" width="12" height="65.5" fill="#ff0000"/>
<text transform="translate(12.19,455.25) rotate(-90)" font-size="10.25" fill="#fff" text-anchor="middle">95/Dan Ryan</text>
<use href="#wc" x="3.58" y="490.45" width="9.14" height="9.9"/>
<rect x="31.75" y="422.5" width="12" height="23.25" fill="#ff0000"/>
<text transform="translate(41.44,434.12) rotate(-90)" font-size="10.25" fill="#fff" text-anchor="middle">87th</text>
<rect x="61.25" y="422.5" width="12.5" height="23.75" fill="#ff0000"/>
<text transform="translate(71.19,434.38) rotate(-90)" font-size="10.25" fill="#fff" text-anchor="middle">79th</text>
<use href="#wc" x="62.58" y="450.7" width="9.14" height="9.9"/>
<rect x="91.25" y="422.5" width="12" height="23.75" fill="#ff0000"/>
<text transform="translate(100.94,434.38) rotate(-90)" font-size="10.25" fill="#fff" text-anchor="middle">69th</text>
<use href="#wc" x="92.58" y="450.7" width="9.14" height="9.9"/>
<rect x="120.75" y="422.5" width="12.25" height="23.75" fill="#ff0000"/>
<text transform="translate(130.56,434.38) rotate(-90)" font-size="10.25" fill="#fff" text-anchor="middle">63rd</text>
<rect x="168.75" y="422.5" width="12.25" height="38.75" fill="#ff0000"/>
<text transform="translate(178.56,441.88) rotate(-90)" font-size="10.25" fill="#fff" text-anchor="middle">Garfield</text>
<use href="#wc" x="170.58" y="465.2" width="9.14" height="9.9"/>
<rect x="213" y="422.5" width="12" height="27.5" fill="#ff0000"/>
<text transform="translate(222.69,436.25) rotate(-90)" font-size="10.25" fill="#fff" text-anchor="middle">47th</text>
<use href="#wc" x="214.83" y="453.95" width="9.14" height="9.9"/>
<rect x="250" y="422.5" width="12.5" height="46.25" fill="#ff0000"/>
<text transform="translate(259.94,445.62) rotate(-90)" font-size="10.25" fill="#fff" text-anchor="middle">Sox/35th</text>
<use href="#wc" x="250.58" y="471.95" width="9.14" height="9.9"/>
<rect x="514" y="9" width="57" height="12" fill="#3366ff"/>
<text x="542.5" y="18.65" font-size="10.15" fill="#fff" text-anchor="middle">Forest Park</text>
<use href="#wc" x="574.33" y="9.95" width="9.14" height="9.9"/>
<use href="#pk" x="586.25" y="10" width="9.5" height="9.5"/>
<rect x="514" y="34.5" width="35" height="12" fill="#3366ff"/>
<text x="531.5" y="44.15" font-size="10.15" fill="#fff" text-anchor="middle">Harlem</text>
<rect x="514" y="60.5" width="45" height="12" fill="#3366ff"/>
<text x="536.5" y="70.15" font-size="10.15" fill="#fff" text-anchor="middle">Oak Park</text>
<rect x="514" y="86.25" width="35" height="12.25" fill="#3366ff"/>
<text x="531.5" y="96.03" font-size="10.15" fill="#fff" text-anchor="middle">Austin</text>
<rect x="514" y="112" width="31" height="12.25" fill="#3366ff"/>
<text x="529.5" y="121.78" font-size="10.15" fill="#fff" text-anchor="middle">Cicero</text>
<rect x="514" y="138" width="41" height="12.5" fill="#3366ff"/>
<text x="534.5" y="147.9" font-size="10.15" fill="#fff" text-anchor="middle">Pulaski</text>
<rect x="514" y="164" width="78" height="12.5" fill="#3366ff"/>
<text x="553" y="173.9" font-size="10.15" fill="#fff" text-anchor="middle">Kedzie - Homan</text>
<use href="#wc" x="593.58" y="165.2" width="9.14" height="9.9"/>
<rect x="514" y="190.25" width="41" height="12" fill="#3366ff"/>
<text x="534.5" y="199.9" font-size="10.15" fill="#fff" text-anchor="middle">Western</text>
<rect x="510" y="215.5" width="75.5" height="12.5" fill="#3366ff"/>
<text x="547.75" y="225.4" font-size="10.15" fill="#fff" text-anchor="middle">Medical Center</text>
<use href="#wc" x="589.33" y="216.7" width="9.14" height="9.9"/>
<rect x="460" y="284" width="38" height="13" fill="#3366ff"/>
<text x="479" y="294.15" font-size="10.15" fill="#fff" text-anchor="middle">Racine</text>
<rect x="437.5" y="325" width="60.5" height="12.5" fill="#3366ff"/>
<text x="467.75" y="334.9" font-size="10.15" fill="#fff" text-anchor="middle">UIC-Halsted</text>
<use href="#wc" x="422.98" y="325.25" width="11.54" height="12.5"/>
<rect x="463.75" y="377.5" width="33.75" height="12" fill="#3366ff"/>
<text x="480.62" y="387.15" font-size="10.15" fill="#fff" text-anchor="middle">Clinton</text>
<use href="#metra" x="444.85" y="375.85" width="13.8" height="13.8"/>
<rect x="460" y="418.25" width="36.25" height="12" fill="#3366ff"/>
<text x="478.12" y="427.9" font-size="10.15" fill="#fff" text-anchor="middle">LaSalle</text>
<use href="#metra" x="440.6" y="417.1" width="13.8" height="13.8"/>
<rect x="626.25" y="432" width="39.25" height="13" fill="#3366ff"/>
<text x="645.88" y="442.15" font-size="10.15" fill="#fff" text-anchor="middle">Monroe</text>
<rect x="681.75" y="432" width="57.75" height="13" fill="#3366ff"/>
<text x="710.62" y="442.15" font-size="10.15" fill="#fff" text-anchor="middle">Washington</text>
<rect x="571" y="351" width="35.25" height="12.5" fill="#000000"/>
<text x="588.62" y="360.9" font-size="10.15" fill="#fff" text-anchor="middle">Quincy</text>
<use href="#metra" x="607.6" y="350.1" width="13.8" height="13.8"/>
<rect x="674.5" y="351" width="58" height="12.5" fill="#000000"/>
<text x="703.5" y="360.9" font-size="10.15" fill="#fff" text-anchor="middle">Washington</text>
<use href="#metra" x="736.85" y="350.1" width="13.8" height="13.8"/>
<use href="#wc" x="752.75" y="350.5" width="12" height="13"/>
<rect x="559.5" y="417" width="39.5" height="13.25" fill="#000000"/>
<text x="579.25" y="427.28" font-size="10.15" fill="#fff" text-anchor="middle">LaSalle</text>
<use href="#metra" x="600.1" y="416.85" width="13.8" height="13.8"/>
<rect x="802.5" y="423.25" width="31.25" height="13.25" fill="#000000"/>
<text x="818.12" y="433.53" font-size="10.15" fill="#fff" text-anchor="middle">Clark</text>
<use href="#wc" x="838.58" y="424.95" width="9.14" height="9.9"/>
<rect x="585" y="467.5" width="41.25" height="13" fill="#000000"/>
<text x="605.62" y="477.65" font-size="10.15" fill="#fff" text-anchor="middle">Jackson</text>
<use href="#wc" x="630.08" y="468.7" width="9.14" height="9.9"/>
<rect x="400.7" y="469.2" width="49.5" height="12.4" fill="#000000"/>
<text x="425.45" y="478.64" font-size="9" fill="#fff" text-anchor="middle" font-weight="bold">Roosevelt</text>
<use href="#wc" x="452.9" y="468.8" width="12" height="13"/>
<use href="#pk" x="467" y="468.8" width="13.1" height="13.2"/>
<use href="#metra" x="481.3" y="468.3" width="14" height="14"/>
<rect x="558.75" y="522.5" width="38" height="12.5" fill="#000000"/>
<text x="577.75" y="532.4" font-size="10.15" fill="#fff" text-anchor="middle">Library</text>
<use href="#wc" x="600.08" y="524.2" width="9.14" height="9.9"/>
<rect x="803" y="527.5" width="30.75" height="12.5" fill="#000000"/>
<text x="818.38" y="537.4" font-size="10.15" fill="#fff" text-anchor="middle">State</text>
<use href="#wc" x="838.58" y="528.95" width="9.14" height="9.9"/>
<rect x="571.25" y="602.5" width="35.5" height="12.5" fill="#000000"/>
<text x="589" y="612.4" font-size="10.15" fill="#fff" text-anchor="middle">Adams</text>
<use href="#metra" x="555.1" y="601.6" width="13.8" height="13.8"/>
<rect x="648.75" y="602.5" width="42.5" height="12.5" fill="#000000"/>
<text x="670" y="612.4" font-size="10.15" fill="#fff" text-anchor="middle">Madison</text>
<rect x="726.25" y="602.5" width="42.5" height="12.5" fill="#000000"/>
<text x="747.5" y="612.1" font-size="9.3" fill="#b0b0b0" text-anchor="middle">Randolph</text>
<rect x="770.4" y="601" width="14.6" height="14.7" fill="#fff"/>
<use href="#metra" x="770.6" y="601.6" width="13.8" height="13.8"/>
<text x="691.5" y="543" font-size="20.9" fill="#808080" text-anchor="middle">Loop</text>
<rect x="455" y="500.5" width="45.5" height="11.25" fill="#ff0000"/>
<text x="477.75" y="509.87" font-size="10.4" fill="#fff" text-anchor="middle" font-weight="bold">Harrison</text>
<rect x="626.25" y="502.5" width="39.25" height="12.5" fill="#ff0000"/>
<text x="645.88" y="512.4" font-size="10.15" fill="#fff" text-anchor="middle">Monroe</text>
<rect x="721.25" y="501" width="26.75" height="12.5" fill="#ff0000"/>
<text x="734.62" y="510.99" font-size="10.4" fill="#fff" text-anchor="middle" font-weight="bold">Lake</text>
<use href="#wc" x="711.33" y="502.2" width="9.14" height="9.9"/>
<rect x="812.5" y="502.5" width="35.5" height="12.5" fill="#ff0000"/>
<text x="830.25" y="512.4" font-size="10.15" fill="#fff" text-anchor="middle">Grand</text>
<rect x="861.25" y="500.75" width="42.5" height="12.25" fill="#ff0000"/>
<text x="882.5" y="510.53" font-size="10.15" fill="#fff" text-anchor="middle">Chicago</text>
<use href="#wc" x="908.08" y="501.95" width="9.14" height="9.9"/>
<rect x="928.75" y="456.25" width="63.75" height="13" fill="#ff0000"/>
<text x="960.62" y="466.13" font-size="9.4" fill="#fff" text-anchor="middle" font-weight="bold">Clark/Division</text>
<rect x="906.25" y="315.75" width="71.25" height="12.25" fill="#ff0000"/>
<text x="941.88" y="325.26" font-size="9.4" fill="#fff" text-anchor="middle" font-weight="bold">North/Clybourn</text>
<rect x="780.25" y="8.5" width="49.75" height="16" fill="#008000"/>
<text x="805.12" y="20.94" font-size="10.4" fill="#fff" text-anchor="middle" font-weight="bold">Harlem</text>
<use href="#wc" x="834.4" y="9.9" width="12" height="13"/>
<use href="#metra" x="848.3" y="9.5" width="13.8" height="13.8"/>
<rect x="780.25" y="31" width="49.75" height="15.5" fill="#008000"/>
<text x="805.12" y="43.19" font-size="10.4" fill="#fff" text-anchor="middle" font-weight="bold">Oak Park</text>
<rect x="780.25" y="53.25" width="53.5" height="15.5" fill="#008000"/>
<text x="807" y="65.44" font-size="10.4" fill="#fff" text-anchor="middle" font-weight="bold">Ridgeland</text>
<rect x="780.25" y="75.25" width="38.25" height="15.75" fill="#008000"/>
<text x="799.38" y="87.57" font-size="10.4" fill="#fff" text-anchor="middle" font-weight="bold">Austin</text>
<rect x="780.25" y="97.5" width="38.25" height="15.5" fill="#008000"/>
<text x="799.38" y="109.69" font-size="10.4" fill="#fff" text-anchor="middle" font-weight="bold">Central</text>
<use href="#wc" x="826" y="99" width="12" height="13"/>
<rect x="780.25" y="119.5" width="42.25" height="16" fill="#008000"/>
<text x="801.38" y="131.94" font-size="10.4" fill="#fff" text-anchor="middle" font-weight="bold">Laramie</text>
<use href="#wc" x="826" y="121" width="12" height="13"/>
<rect x="780.25" y="141.75" width="38.25" height="15.75" fill="#008000"/>
<text x="799.38" y="154.07" font-size="10.4" fill="#fff" text-anchor="middle" font-weight="bold">Cicero</text>
<use href="#wc" x="822" y="143" width="12" height="13"/>
<rect x="780.25" y="164" width="38.25" height="15.75" fill="#008000"/>
<text x="799.38" y="176.32" font-size="10.4" fill="#fff" text-anchor="middle" font-weight="bold">Pulaski</text>
<use href="#wc" x="822" y="165.75" width="12" height="13"/>
<rect x="780.25" y="190.25" width="152.75" height="15.75" fill="#008000"/>
<text x="856.62" y="202.08" font-size="9.05" fill="#fff" text-anchor="middle" font-weight="bold">Conservatory / Central Park Drive</text>
<use href="#wc" x="937.25" y="192" width="12" height="13"/>
<rect x="780.25" y="212.25" width="38.25" height="15.75" fill="#008000"/>
<text x="799.38" y="224.57" font-size="10.4" fill="#fff" text-anchor="middle" font-weight="bold">Kedzie</text>
<use href="#wc" x="822" y="213.5" width="12" height="13"/>
<use href="#metra" x="836.5" y="213.75" width="13" height="13"/>
<rect x="780.25" y="238" width="56.25" height="12.5" fill="#008000"/>
<text x="808.38" y="248.69" font-size="10.4" fill="#fff" text-anchor="middle" font-weight="bold">California</text>
<use href="#wc" x="840.58" y="239.45" width="9.14" height="9.9"/>
<rect x="726" y="269" width="39.3" height="13" fill="#000000"/>
<text x="745.65" y="279.15" font-size="10.15" fill="#fff" text-anchor="middle">Ashland</text>
<use href="#wc" x="708.3" y="269" width="12" height="13"/>
<rect x="729.8" y="313.8" width="35.5" height="12.7" fill="#000000"/>
<text x="747.55" y="323.8" font-size="10.15" fill="#fff" text-anchor="middle">Clinton</text>
<use href="#wc" x="716.23" y="313.45" width="11.54" height="12.5"/>
<use href="#metra" x="700.5" y="313.2" width="13.6" height="13.6"/>
<rect x="1128" y="5" width="38.25" height="12" fill="#3366ff"/>
<text x="1147.12" y="14.74" font-size="10.4" fill="#fff" text-anchor="middle" font-weight="bold">O’Hare</text>
<use href="#wc" x="1169.83" y="5.95" width="9.14" height="9.9"/>
<use href="#pk" x="1180.4" y="5.9" width="10.4" height="9.8"/>
<use href="#air" x="1195.3" y="5.3" width="10.9" height="11.1"/>
<rect x="1128" y="27.5" width="52.75" height="12" fill="#3366ff"/>
<text x="1154.38" y="37.24" font-size="10.4" fill="#fff" text-anchor="middle" font-weight="bold">Rosemont</text>
<use href="#wc" x="1184.33" y="28.45" width="9.14" height="9.9"/>
<use href="#pk" x="1195.75" y="28.25" width="9.75" height="9.75"/>
<rect x="1128" y="49.25" width="67.75" height="12.25" fill="#3366ff"/>
<text x="1161.88" y="59.12" font-size="10.4" fill="#fff" text-anchor="middle" font-weight="bold">Cumberland</text>
<use href="#wc" x="1199.33" y="50.45" width="9.14" height="9.9"/>
<use href="#pk" x="1210.5" y="50.75" width="10" height="9.75"/>
<rect x="1128" y="71.75" width="38.25" height="12.25" fill="#3366ff"/>
<text x="1147.12" y="81.62" font-size="10.4" fill="#fff" text-anchor="middle" font-weight="bold">Harlem</text>
<use href="#wc" x="1169.83" y="72.95" width="9.14" height="9.9"/>
<use href="#pk" x="1181.25" y="73" width="9.5" height="9.5"/>
<rect x="1128" y="97.5" width="75.25" height="12.5" fill="#3366ff"/>
<text x="1165.62" y="107.49" font-size="10.4" fill="#fff" text-anchor="middle" font-weight="bold">Jefferson Park</text>
<use href="#wc" x="1206.83" y="98.95" width="9.14" height="9.9"/>
<rect x="1124.25" y="130.5" width="49.5" height="12.75" fill="#3366ff"/>
<text x="1149" y="140.62" font-size="10.4" fill="#fff" text-anchor="middle" font-weight="bold">Montrose</text>
<rect x="1094.5" y="153" width="60.5" height="11.75" fill="#3366ff"/>
<text x="1124.75" y="162.62" font-size="10.4" fill="#fff" text-anchor="middle" font-weight="bold">Irving Park</text>
<rect x="1065" y="175.5" width="45.5" height="12.25" fill="#3366ff"/>
<text x="1087.75" y="185.37" font-size="10.4" fill="#fff" text-anchor="middle" font-weight="bold">Addison</text>
<rect x="1035.5" y="197.75" width="45.5" height="12.25" fill="#3366ff"/>
<text x="1058.25" y="207.62" font-size="10.4" fill="#fff" text-anchor="middle" font-weight="bold">Belmont</text>
<rect x="1005.75" y="219.75" width="71.75" height="12.5" fill="#3366ff"/>
<text x="1041.62" y="229.74" font-size="10.4" fill="#fff" text-anchor="middle" font-weight="bold">Logan Square</text>
<use href="#wc" x="1081.33" y="220.95" width="9.14" height="9.9"/>
<rect x="917" y="219.75" width="49.75" height="12.5" fill="#3366ff"/>
<text x="941.88" y="229.74" font-size="10.4" fill="#fff" text-anchor="middle" font-weight="bold">California</text>
<rect x="891.25" y="241.75" width="45.5" height="12.5" fill="#3366ff"/>
<text x="914" y="251.74" font-size="10.4" fill="#fff" text-anchor="middle" font-weight="bold">Western</text>
<use href="#wc" x="878.08" y="242.95" width="9.14" height="9.9"/>
<rect x="865" y="264" width="46.25" height="12.5" fill="#3366ff"/>
<text x="888.12" y="273.99" font-size="10.4" fill="#fff" text-anchor="middle" font-weight="bold">Damen</text>
<rect x="836" y="285.5" width="45.25" height="12.75" fill="#3366ff"/>
<text x="858.62" y="295.62" font-size="10.4" fill="#fff" text-anchor="middle" font-weight="bold">Division</text>
<rect x="806" y="308.5" width="46" height="12.5" fill="#3366ff"/>
<text x="829" y="318.49" font-size="10.4" fill="#fff" text-anchor="middle" font-weight="bold">Chicago</text>
<rect x="832" y="349" width="34.4" height="13.5" fill="#3366ff"/>
<text x="849.2" y="359.49" font-size="10.4" fill="#fff" text-anchor="middle" font-weight="bold">Grand</text>
<rect x="1382.5" y="45.6" width="42.5" height="12.5" fill="#993300"/>
<text x="1403.75" y="55.59" font-size="10.4" fill="#fff" text-anchor="middle" font-weight="bold">Kimball</text>
<use href="#wc" x="1428.38" y="46.95" width="9.14" height="9.9"/>
<use href="#pk" x="1438.3" y="45.6" width="12" height="12.5"/>
<rect x="1382.5" y="71.4" width="38.5" height="12.5" fill="#993300"/>
<text x="1401.75" y="81.39" font-size="10.4" fill="#fff" text-anchor="middle" font-weight="bold">Kedzie</text>
<use href="#wc" x="1424.58" y="72.95" width="9.14" height="9.9"/>
<use href="#pk" x="1434.6" y="71.4" width="12" height="12.5"/>
<rect x="1382.5" y="97.7" width="53.3" height="12.5" fill="#993300"/>
<text x="1409.15" y="107.69" font-size="10.4" fill="#fff" text-anchor="middle" font-weight="bold">Francisco</text>
<use href="#wc" x="1439.58" y="98.95" width="9.14" height="9.9"/>
<rect x="1382.5" y="123.5" width="49.8" height="12.5" fill="#993300"/>
<text x="1407.4" y="133.49" font-size="10.4" fill="#fff" text-anchor="middle" font-weight="bold">Rockwell</text>
<use href="#wc" x="1435.88" y="124.95" width="9.14" height="9.9"/>
<rect x="1364.4" y="156.8" width="45.9" height="12.2" fill="#993300"/>
<text x="1387.35" y="166.64" font-size="10.4" fill="#fff" text-anchor="middle" font-weight="bold">Western</text>
<use href="#wc" x="1414.08" y="157.95" width="9.14" height="9.9"/>
<rect x="1331.4" y="182.6" width="41.3" height="12.5" fill="#993300"/>
<text x="1352.05" y="192.59" font-size="10.4" fill="#fff" text-anchor="middle" font-weight="bold">Damen</text>
<use href="#wc" x="1376.58" y="183.95" width="9.14" height="9.9"/>
<use href="#metra" x="1387.2" y="184" width="10" height="10"/>
<rect x="1305" y="201.4" width="49.7" height="12" fill="#993300"/>
<text x="1329.85" y="211.14" font-size="10.4" fill="#fff" text-anchor="middle" font-weight="bold">Montrose</text>
<use href="#wc" x="1357.78" y="202.45" width="9.14" height="9.9"/>
<rect x="1275.5" y="223.4" width="60.4" height="12.3" fill="#993300"/>
<text x="1305.7" y="233.29" font-size="10.4" fill="#fff" text-anchor="middle" font-weight="bold">Irving Park</text>
<use href="#wc" x="1340.18" y="224.45" width="9.14" height="9.9"/>
<rect x="1242.5" y="249.5" width="45" height="12" fill="#993300"/>
<text x="1265" y="259.24" font-size="10.4" fill="#fff" text-anchor="middle" font-weight="bold">Addison</text>
<use href="#wc" x="1292.08" y="250.45" width="9.14" height="9.9"/>
<rect x="1205.75" y="275.25" width="42.25" height="12.25" fill="#993300"/>
<text x="1226.88" y="285.12" font-size="10.4" fill="#fff" text-anchor="middle" font-weight="bold">Paulina</text>
<use href="#wc" x="1251.33" y="276.45" width="9.14" height="9.9"/>
<rect x="1168.75" y="304.75" width="53.25" height="12.5" fill="#993300"/>
<text x="1195.38" y="314.74" font-size="10.4" fill="#fff" text-anchor="middle" font-weight="bold">Southport</text>
<use href="#wc" x="1225.58" y="305.95" width="9.14" height="9.9"/>
<rect x="1519.2" y="141.7" width="40.6" height="12.6" fill="#ffcc00"/>
<text x="1539.5" y="151.65" font-size="10.15" fill="#fff" text-anchor="middle">Skokie</text>
<use href="#wc" x="1563.58" y="142.95" width="9.14" height="9.9"/>
<rect x="860" y="387.5" width="12" height="72" fill="#000000"/>
<text transform="translate(868.95,423.5) rotate(-90)" font-size="8.2" fill="#fff" text-anchor="middle" font-weight="bold">Merchandise Mart</text>
<use href="#wc" x="859.33" y="461.2" width="9.14" height="9.9"/>
<rect x="893" y="387.5" width="12.75" height="42.5" fill="#000000"/>
<text transform="translate(903.07,408.75) rotate(-90)" font-size="10.25" fill="#fff" text-anchor="middle">Chicago</text>
<use href="#wc" x="895.58" y="436.2" width="9.14" height="9.9"/>
<rect x="945" y="387.5" width="12.5" height="45.75" fill="#000000"/>
<text transform="translate(954.94,410.38) rotate(-90)" font-size="10.25" fill="#aaaaaa" text-anchor="middle">Sedgwick</text>
<use href="#wc" x="948.08" y="439.45" width="9.14" height="9.9"/>
<rect x="1010" y="342" width="12" height="45" fill="#000000"/>
<text transform="translate(1019.69,364.5) rotate(-90)" font-size="10.25" fill="#fff" text-anchor="middle">Armitage</text>
<use href="#wc" x="1011.33" y="391.2" width="9.14" height="9.9"/>
<rect x="1035.5" y="342" width="12" height="45" fill="#000000"/>
<text transform="translate(1045.19,364.5) rotate(-90)" font-size="10.25" fill="#fff" text-anchor="middle">Fullerton</text>
<use href="#wc" x="1036.83" y="391.2" width="9.14" height="9.9"/>
<rect x="1061.25" y="342" width="12.5" height="45" fill="#000000"/>
<text transform="translate(1071.19,364.5) rotate(-90)" font-size="10.25" fill="#fff" text-anchor="middle">Diversey</text>
<use href="#wc" x="1062.33" y="391.2" width="9.14" height="9.9"/>
<rect x="1087" y="342" width="12.25" height="52.5" fill="#000000"/>
<text transform="translate(1096.82,368.25) rotate(-90)" font-size="10.25" fill="#fff" text-anchor="middle">Wellington</text>
<use href="#wc" x="1088.08" y="397.95" width="9.14" height="9.9"/>
<rect x="1113.25" y="342" width="12.5" height="41.25" fill="#000000"/>
<text transform="translate(1123.19,362.62) rotate(-90)" font-size="10.25" fill="#fff" text-anchor="middle">Belmont</text>
<use href="#wc" x="1114.33" y="387.95" width="9.14" height="9.9"/>
<rect x="1135" y="341.25" width="16.25" height="46.25" fill="#ff0000"/>
<text transform="translate(1146.82,364.38) rotate(-90)" font-size="10.25" fill="#fff" text-anchor="middle">Addison</text>
<use href="#wc" x="1140.08" y="390.7" width="9.14" height="9.9"/>
<rect x="1164.5" y="341.25" width="12.5" height="46.25" fill="#000000"/>
<text transform="translate(1174.44,364.38) rotate(-90)" font-size="10.25" fill="#fff" text-anchor="middle">Sheridan</text>
<rect x="1190.5" y="341.25" width="12.5" height="46.25" fill="#ff0000"/>
<text transform="translate(1200.44,364.38) rotate(-90)" font-size="10.25" fill="#fff" text-anchor="middle">Wilson</text>
<rect x="1213" y="341.25" width="12" height="57" fill="#ff0000"/>
<text transform="translate(1222.69,369.75) rotate(-90)" font-size="10.25" fill="#fff" text-anchor="middle">Lauwrence</text>
<rect x="1235" y="341.25" width="12.5" height="38.75" fill="#ff0000"/>
<text transform="translate(1244.94,360.62) rotate(-90)" font-size="10.25" fill="#fff" text-anchor="middle">Argyle</text>
<rect x="1257" y="341.25" width="12.5" height="42" fill="#ff0000"/>
<text transform="translate(1266.94,362.25) rotate(-90)" font-size="10.25" fill="#fff" text-anchor="middle">Berwyn</text>
<rect x="1283" y="341.25" width="12.75" height="57" fill="#ff0000"/>
<text transform="translate(1293.07,369.75) rotate(-90)" font-size="10.25" fill="#fff" text-anchor="middle">Bryn Mawr</text>
<rect x="1309" y="341.25" width="12.5" height="57" fill="#ff0000"/>
<text transform="translate(1318.94,369.75) rotate(-90)" font-size="10.25" fill="#fff" text-anchor="middle">Thorndale</text>
<rect x="1335" y="341.25" width="12.5" height="49.5" fill="#ff0000"/>
<text transform="translate(1344.94,366) rotate(-90)" font-size="10.25" fill="#fff" text-anchor="middle">Granville</text>
<use href="#wc" x="1336.33" y="395.45" width="9.14" height="9.9"/>
<rect x="1360.75" y="341.25" width="12.25" height="38.25" fill="#ff0000"/>
<text transform="translate(1370.57,360.38) rotate(-90)" font-size="10.25" fill="#fff" text-anchor="middle">Loyota</text>
<use href="#wc" x="1362.33" y="383.7" width="9.14" height="9.9"/>
<rect x="1386.75" y="341.25" width="12.5" height="35" fill="#ff0000"/>
<text transform="translate(1396.69,358.75) rotate(-90)" font-size="10.25" fill="#fff" text-anchor="middle">Morse</text>
<rect x="1412.5" y="341.25" width="12.5" height="35" fill="#ff0000"/>
<text transform="translate(1422.44,358.75) rotate(-90)" font-size="10.25" fill="#fff" text-anchor="middle">Jarvis</text>
<rect x="1436.25" y="343" width="13" height="42.5" fill="#000000"/>
<text transform="translate(1446.44,364.25) rotate(-90)" font-size="10.25" fill="#fff" text-anchor="middle">Howard</text>
<use href="#wc" x="1435.58" y="390.7" width="9.14" height="9.9"/>
<use href="#pk" x="1436.25" y="406" width="13" height="13"/>
<rect x="1464" y="237.7" width="11" height="82.5" fill="#660066"/>
<text transform="translate(1473.19,278.95) rotate(-90)" font-size="10.25" fill="#fff" text-anchor="middle">South Boulevard</text>
<rect x="1490" y="293" width="12.4" height="27.2" fill="#660066"/>
<text transform="translate(1499.89,306.6) rotate(-90)" font-size="10.25" fill="#fff" text-anchor="middle">Main</text>
<use href="#metra" x="1490.1" y="335.2" width="10.2" height="10.2"/>
<rect x="1519.5" y="271.3" width="12.7" height="48.9" fill="#660066"/>
<text transform="translate(1529.54,295.75) rotate(-90)" font-size="10.25" fill="#fff" text-anchor="middle">Dempster</text>
<rect x="1549.3" y="285.6" width="12.2" height="34.6" fill="#660066"/>
<text transform="translate(1559.09,302.9) rotate(-90)" font-size="10.25" fill="#fff" text-anchor="middle">Davis</text>
<use href="#wc" x="1550.38" y="268.75" width="9.14" height="9.9"/>
<use href="#metra" x="1549.7" y="335.2" width="10.2" height="10.2"/>
<rect x="1574.8" y="282" width="14.2" height="38.2" fill="#660066"/>
<text transform="translate(1585.59,301.1) rotate(-90)" font-size="10.25" fill="#fff" text-anchor="middle">Foster</text>
<rect x="1600.8" y="282" width="12.6" height="38.2" fill="#660066"/>
<text transform="translate(1610.79,301.1) rotate(-90)" font-size="10.25" fill="#fff" text-anchor="middle">Noyes</text>
<rect x="1626.6" y="282" width="14.4" height="38.2" fill="#660066"/>
<text transform="translate(1637.49,301.1) rotate(-90)" font-size="10.25" fill="#fff" text-anchor="middle">Central</text>
<rect x="1656.2" y="285.6" width="14" height="34.6" fill="#660066"/>
<text transform="translate(1666.89,302.9) rotate(-90)" font-size="10.25" fill="#fff" text-anchor="middle">Linden</text>
<use href="#wc" x="1657.58" y="257.55" width="9.14" height="9.9"/>
<use href="#pk" x="1657" y="335.5" width="10" height="9.5"/>
<circle cx="682" cy="83.3" r="56" fill="#231f20"/>
<circle cx="682" cy="83.3" r="50.1" fill="none" stroke="#fff" stroke-width="1.7"/>
<text x="681.5" y="97.5" font-size="48" font-weight="bold" font-style="italic" fill="#fff" stroke="#fff" stroke-width="2.4" stroke-linejoin="round" text-anchor="middle">cta</text>
<text x="720" y="98.3" font-size="5.5" fill="#eee" text-anchor="middle">®</text>
<rect x="17.7" y="31.7" width="277.5" height="92" fill="#fff" stroke="#808080" stroke-width="1.9"/>
<use href="#metra" x="21.7" y="35.2" width="17.8" height="17.8"/>
<use href="#wc" x="23.89" y="58.75" width="17.82" height="19.3"/>
<use href="#pk" x="26.1" y="84" width="13.4" height="13"/>
<use href="#air" x="25" y="105.4" width="16" height="16"/>
<text x="55.3" y="47" font-size="11.65" font-weight="bold" fill="#000">Correspondance vers Metra / Amtrak</text>
<text x="53.2" y="71.5" font-size="9.05" font-weight="bold" fill="#000">Station accessible aux personnes à mobilité réduite</text>
<text x="55.3" y="94.8" font-size="11.65" font-weight="bold" fill="#000">Parking de dissuasion</text>
<text x="55.3" y="117.2" font-size="11.65" font-weight="bold" fill="#000">Aéroport</text>
</svg>
</body></html>
